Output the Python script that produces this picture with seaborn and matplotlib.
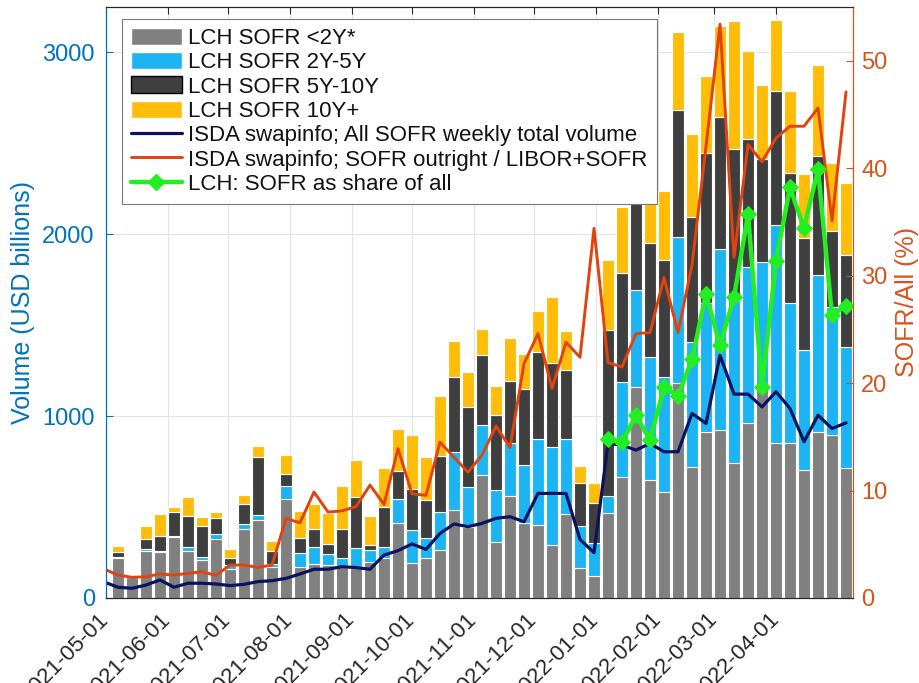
import numpy as np
import pandas as pd
import matplotlib
matplotlib.use('Agg')
import matplotlib.pyplot as plt
import matplotlib.dates as mdates
from matplotlib.patches import Patch
from matplotlib.lines import Line2D
import seaborn as sns

# LCH weekly SOFR volume by tenor bucket (USD billions), Fridays from 2021-05-07
bar_dates = pd.date_range('2021-05-07', periods=53, freq='7D')
lch_lt2y = [220, 115, 258, 255, 333, 260, 209, 322, 160, 377, 429, 172, 544, 169,
            187, 181, 172, 167, 200, 218, 414, 195, 218, 264, 484, 392, 676, 309,
            560, 415, 401, 291, 460, 163, 121, 467, 667, 1158, 648, 584, 1180, 721,
            914, 923, 740, 960, 1150, 850, 850, 703, 914, 896, 712]
lch_2y5y = [5, 0, 11, 5, 8, 22, 15, 28, 20, 30, 27, 13, 73, 80,
            92, 59, 46, 106, 64, 64, 132, 179, 110, 210, 320, 220, 274, 284,
            290, 316, 473, 537, 414, 234, 179, 93, 521, 534, 678, 632, 805, 687,
            706, 998, 900, 860, 698, 1199, 770, 660, 861, 704, 669]
lch_5y10y = [30, 5, 55, 82, 133, 169, 172, 88, 40, 109, 320, 75, 63, 79,
             100, 55, 159, 284, 27, 216, 152, 225, 210, 306, 412, 439, 385, 412,
             342, 416, 476, 465, 382, 233, 220, 913, 597, 708, 624, 641, 696, 687,
             827, 724, 831, 706, 568, 738, 717, 619, 654, 416, 504]
lch_10yp = [33, 0, 73, 118, 28, 106, 51, 36, 52, 50, 59, 55, 106, 150,
            136, 170, 238, 201, 161, 214, 232, 297, 235, 330, 198, 192, 145, 160,
            240, 197, 229, 363, 211, 97, 114, 384, 363, 300, 255, 381, 431, 458,
            421, 498, 701, 481, 406, 394, 450, 351, 500, 376, 397]

# ISDA swapinfo weekly series (one week earlier start)
isda_dates = pd.date_range('2021-04-30', periods=54, freq='7D')
isda_sofr_total = [88, 59, 53, 71, 99, 59, 81, 81, 77, 68, 75, 90, 95, 108,
                   132, 158, 158, 172, 167, 158, 236, 260, 297, 267, 355, 407, 392, 410,
                   438, 447, 419, 575, 575, 575, 322, 249, 850, 841, 813, 850, 804, 804,
                   1015, 960, 1335, 1121, 1121, 1051, 1134, 1042, 859, 1005, 932, 963]
isda_sofr_share = [2.7, 2.13, 1.92, 1.98, 2.23, 2.13, 2.29, 2.44, 2.1, 3.06, 3.06, 2.85, 3.06, 7.39,
                   6.99, 9.86, 8.0, 8.1, 8.5, 10.5, 8.7, 13.9, 9.7, 9.55, 14.5, 13.1, 11.7, 13.3,
                   16.0, 14.0, 21.8, 24.6, 19.5, 23.8, 22.4, 34.4, 21.9, 21.5, 24.6, 24.7, 29.8, 24.7,
                   31.0, 42.0, 53.4, 31.7, 42.2, 40.6, 42.8, 43.9, 43.9, 45.6, 35.1, 47.1]

# LCH SOFR share of all, only from 2022
lch_share_dates = bar_dates[35:]
lch_sofr_share = [14.8, 14.5, 17.0, 14.7, 19.6, 18.8, 22.2, 28.3, 23.5,
                  28.0, 35.7, 19.6, 31.4, 38.2, 34.4, 39.9, 26.3, 27.2]

month_ticks = pd.date_range('2021-05-01', '2022-04-01', freq='MS')

BLUE = '#0072BD'
RED = '#D95319'
GRAY = '#808080'
CYAN = '#1CB4F2'
DARK = '#3F3F3F'
YELLOW = '#FFBD0A'
NAVY = '#0B1260'
REDLINE = '#E3420F'
GREEN = '#22EE22'

sns.set_style('whitegrid')
plt.rcParams['font.family'] = ['Liberation Sans', 'DejaVu Sans']

fig = plt.figure(figsize=(9.2, 6.83), dpi=100)
ax = fig.add_axes([0.1152, 0.1245, 0.812, 0.8653])
ax2 = ax.twinx()

# stacked bars
bottom = np.zeros(len(bar_dates))
for vals, col in zip([lch_lt2y, lch_2y5y, lch_5y10y, lch_10yp], [GRAY, CYAN, DARK, YELLOW]):
    ax.bar(bar_dates, vals, width=6.3, bottom=bottom, color=col,
           edgecolor='white', linewidth=0.8, zorder=2)
    bottom += np.array(vals)

sns.lineplot(x=isda_dates, y=isda_sofr_total, ax=ax, color=NAVY, lw=2.3, zorder=3)
sns.lineplot(x=isda_dates, y=isda_sofr_share, ax=ax2, color=REDLINE, lw=2.1)
sns.lineplot(x=lch_share_dates, y=lch_sofr_share, ax=ax2, color=GREEN, lw=3.2,
             marker='D', markersize=8, markeredgecolor=GREEN)

ax.set_xlim(pd.Timestamp('2021-05-01'), pd.Timestamp('2022-05-09 12:00'))
ax.set_ylim(0, 3250)
ax2.set_ylim(0, 55)
ax.set_yticks([0, 1000, 2000, 3000])
ax2.set_yticks([0, 10, 20, 30, 40, 50])
ax.set_xticks(month_ticks)
ax.xaxis.set_major_formatter(mdates.DateFormatter('%Y-%m-%d'))
for lbl in ax.get_xticklabels():
    lbl.set_rotation(45)
    lbl.set_ha('right')
    lbl.set_va('center')
    lbl.set_rotation_mode('anchor')

ax.set_axisbelow(True)
ax.grid(True, color='#E3E3E3', lw=0.8)
ax2.grid(False)

ax.tick_params(axis='y', colors=BLUE, labelsize=17, direction='in', length=5, pad=8, left=True)
ax.tick_params(axis='x', labelsize=16, labelcolor='#262626', direction='in', length=5,
               pad=13, top=True, bottom=True, color='#262626')
ax2.tick_params(axis='y', colors=RED, labelsize=17, direction='in', length=5, pad=6, right=True)

for a in (ax, ax2):
    a.spines['left'].set_color(BLUE)
    a.spines['right'].set_color(RED)
    a.spines['top'].set_color('#262626')
    a.spines['bottom'].set_color('#262626')
    for s in a.spines.values():
        s.set_linewidth(0.8)

ax.set_ylabel('Volume (USD billions)', color=BLUE, fontsize=18, labelpad=5)
ax2.set_ylabel('SOFR/All (%)', color=RED, fontsize=18, labelpad=5)
ax.set_xlabel('')

handles = [
    Patch(facecolor=GRAY, label='LCH SOFR <2Y*'),
    Patch(facecolor=CYAN, label='LCH SOFR 2Y-5Y'),
    Patch(facecolor=DARK, edgecolor='black', label='LCH SOFR 5Y-10Y'),
    Patch(facecolor=YELLOW, label='LCH SOFR 10Y+'),
    Line2D([], [], color=NAVY, lw=2.3, label='ISDA swapinfo; All SOFR weekly total volume'),
    Line2D([], [], color=REDLINE, lw=2.1, label='ISDA swapinfo; SOFR outright / LIBOR+SOFR'),
    Line2D([], [], color=GREEN, lw=3.2, marker='D', markersize=8, label='LCH: SOFR as share of all'),
]
leg = ax2.legend(handles=handles, loc='upper left', bbox_to_anchor=(0.021, 0.98),
                 fontsize=16, frameon=True, framealpha=1, fancybox=False,
                 edgecolor='#777777', borderpad=0.4, labelspacing=0.14,
                 handlelength=2.3, handleheight=0.8, handletextpad=0.3, borderaxespad=0)
leg.get_frame().set_linewidth(0.8)
for t in leg.get_texts():
    t.set_color('#111111')

fig.savefig('out.png', dpi=100)
